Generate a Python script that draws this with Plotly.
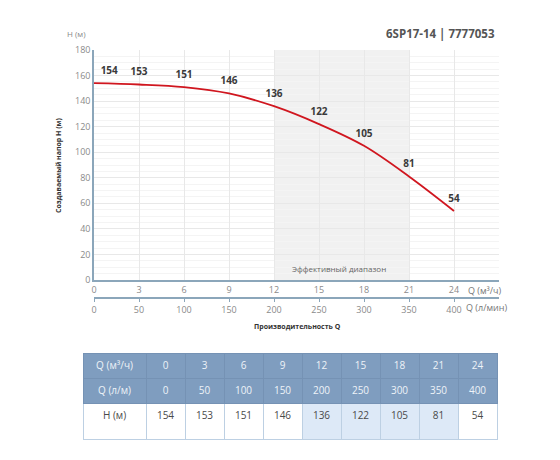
import plotly.graph_objects as go

q_m3h = [0, 3, 6, 9, 12, 15, 18, 21, 24]
q_lmin = [0, 50, 100, 150, 200, 250, 300, 350, 400]
head = [154, 153, 151, 146, 136, 122, 105, 81, 54]
eff_range = [12, 21]
title = "6SP17-14 | 7777053"

OFF = 8  # default body margin of the page
W, H = 560 - OFF, 460 - OFF
FONT = "Open Sans"

def px_x(p):
    return (p - OFF) / W

def px_y(p):
    return 1 - (p - OFF) / H

fig = go.Figure()

# curve
fig.add_trace(go.Scatter(
    x=q_m3h, y=head, mode="lines", line=dict(color="#d0161f", width=1.8, shape="spline"),
    hoverinfo="skip", showlegend=False, xaxis="x", yaxis="y"))
# point labels (transparent markers give the text some lift)
positions = ["top right"] + ["top center"] * (len(head) - 1)
fig.add_trace(go.Scatter(
    x=q_m3h, y=head, mode="markers+text", text=[str(v) for v in head],
    marker=dict(size=9, color="rgba(0,0,0,0)"),
    textposition=positions,
    textfont=dict(family=FONT, size=10, color="#3a3a3a", weight="bold"),
    hoverinfo="skip", showlegend=False, xaxis="x", yaxis="y"))
# invisible trace for second axis
fig.add_trace(go.Scatter(
    x=q_lmin, y=head, mode="lines", opacity=0, hoverinfo="skip",
    showlegend=False, xaxis="x2", yaxis="y"))

# table
n = len(q_m3h)
body_fill = ["#ffffff"] + [("#dde9f7" if eff_range[0] <= v <= eff_range[1] else "#ffffff") for v in q_m3h]
fig.add_trace(go.Table(
    domain=dict(x=[px_x(83), px_x(497)], y=[px_y(440), px_y(353)]),
    columnwidth=[63] + [39] * n,
    header=dict(
        values=[["Q (м³/ч)", "Q (л/м)"]] + [[str(a), str(b)] for a, b in zip(q_m3h, q_lmin)],
        fill=dict(color="#7f9dbf"),
        line=dict(color="#7592b4", width=1),
        font=dict(family=FONT, size=10, color="#eef3f8"),
        align="center", height=25),
    cells=dict(
        values=[["H (м)"]] + [[str(v)] for v in head],
        fill=dict(color=[[c] for c in body_fill]),
        line=dict(color="#bdd0e3", width=1),
        font=dict(family=FONT, size=10, color="#4a4a4a"),
        align="center", height=36),
))

fig.add_shape(type="rect", xref="x", yref="paper", x0=eff_range[0], x1=eff_range[1],
              y0=px_y(280), y1=px_y(50), fillcolor="#f1f1f1", line_width=0, layer="below")

fig.update_layout(
    width=W, height=H, margin=dict(l=0, r=0, t=0, b=0, autoexpand=False),
    paper_bgcolor="white", plot_bgcolor="white",
    font=dict(family=FONT, color="#888888"),
    xaxis=dict(domain=[px_x(94), px_x(499)], range=[0, 27], tickvals=q_m3h,
               showgrid=True, gridcolor="#e8e8e8", zeroline=False, automargin=False,
               showline=True, linecolor="#8ba6ba", linewidth=1.5,
               tickfont=dict(size=9, color="#8a8a8a"), ticks="", anchor="y"),
    xaxis2=dict(overlaying="x", anchor="free", position=px_y(298), range=[0, 450],
                tickvals=q_lmin, showgrid=False, zeroline=False, automargin=False,
                showline=True, linecolor="#8ba6ba", linewidth=1.5,
                ticks="outside", ticklen=3, tickcolor="#8ba6ba",
                tickfont=dict(size=9, color="#8a8a8a")),
    yaxis=dict(domain=[px_y(280), px_y(50)], range=[0, 180], dtick=20,
               showgrid=True, gridcolor="#e8e8e8", zeroline=False, automargin=False,
               minor=dict(dtick=5, showgrid=True, gridcolor="#f4f4f4"),
               showline=True, linecolor="#8ba6ba", linewidth=1.5,
               tickfont=dict(size=9, color="#8a8a8a"), ticks="", anchor="x"),
)

ann = [
    dict(text=title, x=px_x(497), y=px_y(34), xanchor="right", yanchor="middle",
         font=dict(family=FONT, size=11.5, color="#555555", weight="bold")),
    dict(text="H (м)", x=px_x(88), y=px_y(34), xanchor="right", yanchor="middle",
         font=dict(family=FONT, size=8, color="#888888")),
    dict(text="Q (м³/ч)", x=px_x(466), y=px_y(290), xanchor="left", yanchor="middle",
         font=dict(family=FONT, size=9, color="#777777")),
    dict(text="Q (л/мин)", x=px_x(464), y=px_y(307), xanchor="left", yanchor="middle",
         font=dict(family=FONT, size=9, color="#777777")),
    dict(text="Производительность Q", x=px_x(297), y=px_y(326), xanchor="center", yanchor="middle",
         font=dict(family=FONT, size=7, color="#333333", weight="bold")),
    dict(text="Создаваемый напор H (м)", x=px_x(59), y=px_y(165), xanchor="center", yanchor="middle",
         textangle=-90, font=dict(family=FONT, size=7, color="#333333", weight="bold")),
    dict(text="Эффективный диапазон", x=16.3, xref="x", y=px_y(268), xanchor="center", yanchor="middle",
         font=dict(family=FONT, size=8, color="#666666")),
]
for a in ann:
    a.setdefault("xref", "paper")
    a.setdefault("yref", "paper")
    a["showarrow"] = False
    fig.add_annotation(**a)

fig.write_html("out.html")
